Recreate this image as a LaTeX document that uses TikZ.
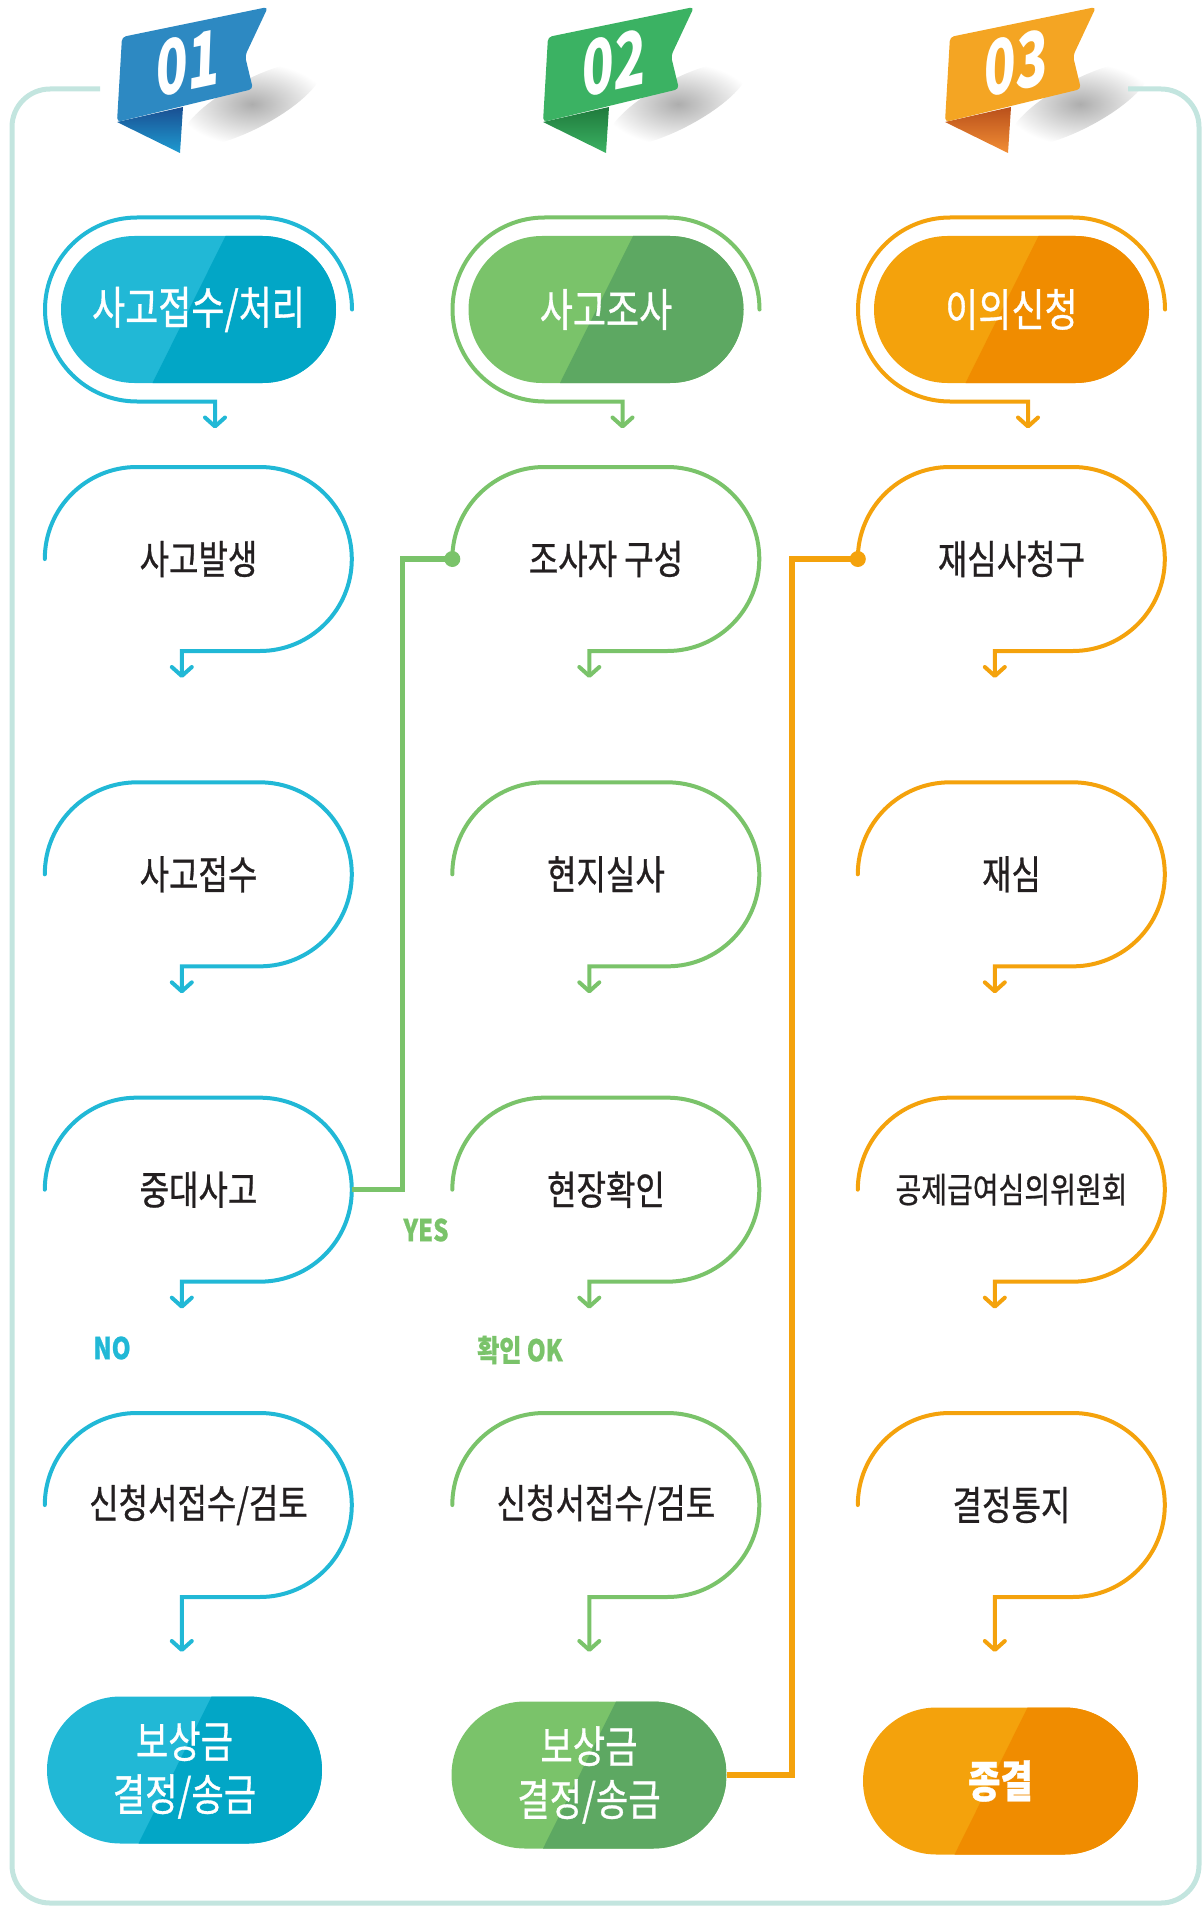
\documentclass[tikz,border=0pt]{standalone}
\usepackage{fontspec}
\newfontfamily\krfont[FakeStretch=0.8,FakeBold=0.7]{Noto Sans CJK KR}
\newfontfamily\numfont[FakeStretch=0.72,FakeSlant=0.25]{Noto Sans CJK KR}
\usetikzlibrary{arrows.meta,positioning,shapes.misc,calc}

\definecolor{bluec}{HTML}{21B8D6}
\definecolor{bluedk}{HTML}{02A6C6}
\definecolor{bluebadge}{HTML}{2D89C2}
\definecolor{bluefold}{HTML}{1E9BD1}
\definecolor{bluefolddk}{HTML}{1A4F92}
\definecolor{greenc}{HTML}{7AC36A}
\definecolor{greendk}{HTML}{5DA862}
\definecolor{greenbadge}{HTML}{3BB263}
\definecolor{greenfold}{HTML}{3BB263}
\definecolor{greenfolddk}{HTML}{1F7A3C}
\definecolor{orangec}{HTML}{F4A20C}
\definecolor{orangedk}{HTML}{F08C00}
\definecolor{orangebadge}{HTML}{F4A523}
\definecolor{orangefold}{HTML}{F28E35}
\definecolor{orangefolddk}{HTML}{B9501B}
\definecolor{framec}{HTML}{C3E5DF}
\definecolor{inkc}{HTML}{231F20}

% outline round a step: #1 colour, #2 node, #3 arrow length
\newcommand{\steprim}[3]{\draw[rimline,#1] (#2.west) arc[start angle=180,end angle=90,radius=92pt]
  -- ++(123pt,0) arc[start angle=90,end angle=-90,radius=92pt] -- ++(-78pt,0) -- ++(0,-#3);}
% outline round a header pill: #1 colour, #2 node
\newcommand{\headrim}[2]{\draw[rimline,#1] ($(#2.center)+(153.5pt,0)$) arc[start angle=0,end angle=90,radius=92pt]
  -- ++(-123pt,0) arc[start angle=90,end angle=270,radius=92pt] -- ++(78pt,0) -- ++(0,-27pt);}
% soft shadow under a badge: #1 shift
\newcommand{\flagshadow}[1]{%
  \shade[xshift=#1,inner color=black!32,outer color=white,rotate around={28:(252,-104)}]
    (252,-104) ellipse (78 and 24);}
% ribbon badge: #1 shift, #2 body, #3 fold dark, #4 fold light, #5 number
\newcommand{\flagbadge}[5]{%
  \begin{scope}[xshift=#1]
    \shade[top color=#3,bottom color=#4] (117,-122) -- (183,-107) -- (180,-153) -- cycle;
    \fill[#2,rounded corners=4pt] (122,-37) -- (268,-7) -- (245,-56) -- (253,-89) -- (117,-122) -- cycle;
    \node[badgenum,rotate=12] at (182,-64) {#5};
  \end{scope}}

\begin{document}
\begin{tikzpicture}
    [x=1pt,y=1pt,node distance=315.33pt,on grid,
    stepbox/.style={minimum width=307pt,minimum height=184pt,inner sep=0pt,text=inkc,
      font=\krfont\fontsize{40}{44}\selectfont},
    headpill/.style 2 args={rounded rectangle,minimum width=275pt,minimum height=147pt,inner sep=0pt,
      fill=#1,text=white,font=\krfont\fontsize{45}{50}\selectfont,
      path picture={\fill[#2] ([xshift=27pt]path picture bounding box.north)
        -- ([xshift=-46pt]path picture bounding box.south) -- (path picture bounding box.south east)
        -- (path picture bounding box.north east) -- cycle;}},
    endpill/.style 2 args={headpill={#1}{#2},align=center,font=\krfont\fontsize{44}{53}\selectfont},
    rimline/.style={line width=4pt,line cap=round,-{Straight Barb[length=9pt,width=20pt,round]}},
    joinline/.style={line width=5.5pt},
    flowtag/.style={font=\krfont\bfseries\fontsize{30}{30}\selectfont},
    badgenum/.style={text=white,font=\numfont\bfseries\fontsize{74}{74}\selectfont}]
    \useasboundingbox (0,0) rectangle (1203,-1910);
    % badge shadows go first, the frame over them
    \flagshadow{0pt}
    \flagshadow{426pt}
    \flagshadow{828pt}
    % frame
    \draw[framec,line width=5pt,rounded corners=38pt] (100,-89) -- (12,-89) -- (12,-1903)
      -- (1199,-1903) -- (1199,-89) -- (1128,-89);
    % badges
    \flagbadge{0pt}{bluebadge}{bluefolddk}{bluefold}{01}
    \flagbadge{426pt}{greenbadge}{greenfolddk}{greenfold}{02}
    \flagbadge{828pt}{orangebadge}{orangefolddk}{orangefold}{03}

    % column 1
    \node[headpill={bluec}{bluedk}] (h1) at (198.5,-309.5) {사고접수/처리};
    \node[stepbox] (s11) [below=249.5pt of h1] {사고발생};
    \node[stepbox] (s12) [below=of s11] {사고접수};
    \node[stepbox] (s13) [below=of s12] {중대사고};
    \node[stepbox] (s14) [below=of s13] {신청서접수/검토};
    \node[endpill={bluec}{bluedk}] (f1) [below=265pt of s14,xshift=-14pt] {보상금\\결정/송금};
    % column 2
    \node[headpill={greenc}{greendk}] (h2) at (606,-309.5) {사고조사};
    \node[stepbox] (s21) [below=249.5pt of h2] {조사자 구성};
    \node[stepbox] (s22) [below=of s21] {현지실사};
    \node[stepbox] (s23) [below=of s22] {현장확인};
    \node[stepbox] (s24) [below=of s23] {신청서접수/검토};
    \node[endpill={greenc}{greendk}] (f2) [below=270pt of s24,xshift=-17pt] {보상금\\결정/송금};
    % column 3
    \node[headpill={orangec}{orangedk}] (h3) at (1011.5,-309.5) {이의신청};
    \node[stepbox] (s31) [below=249.5pt of h3] {재심사청구};
    \node[stepbox] (s32) [below=of s31] {재심};
    \node[stepbox,font=\krfont\fontsize{35}{40}\selectfont] (s33) [below=of s32] {공제급여심의위원회};
    \node[stepbox] (s34) [below=of s33] {결정통지};
    \node[endpill={orangec}{orangedk},font=\krfont\bfseries\fontsize{44}{53}\selectfont] (f3)
      [below=276pt of s34,xshift=-11pt] {종결};

    % outlines
    \headrim{bluec}{h1}
    \headrim{greenc}{h2}
    \headrim{orangec}{h3}
    \foreach \n in {s11,s12,s13} {\steprim{bluec}{\n}{27pt}}
    \foreach \n in {s21,s22,s23} {\steprim{greenc}{\n}{27pt}}
    \foreach \n in {s31,s32,s33} {\steprim{orangec}{\n}{27pt}}
    \steprim{bluec}{s14}{55pt}
    \steprim{greenc}{s24}{55pt}
    \steprim{orangec}{s34}{55pt}

    % links between columns
    \coordinate (gturn) at ($(s21.west)+(-50pt,0)$);
    \draw[joinline,greenc] (s13.east) -| (gturn) -- (s21.west);
    \fill[greenc] (s21.west) circle (8pt);
    \coordinate (oturn) at ($(s31.west)+(-66pt,0)$);
    \draw[joinline,orangec] (f2.east) -| (oturn) -- (s31.west);
    \fill[orangec] (s31.west) circle (8pt);

    % branch labels
    \node[flowtag,text=greenc] (yes) at (426,-1230) {YES};
    \node[flowtag,text=bluec] (no) at (112,-1348) {NO};
    \node[flowtag,text=greenc] (ok) at (520,-1350) {확인 OK};
\end{tikzpicture}
\end{document}
